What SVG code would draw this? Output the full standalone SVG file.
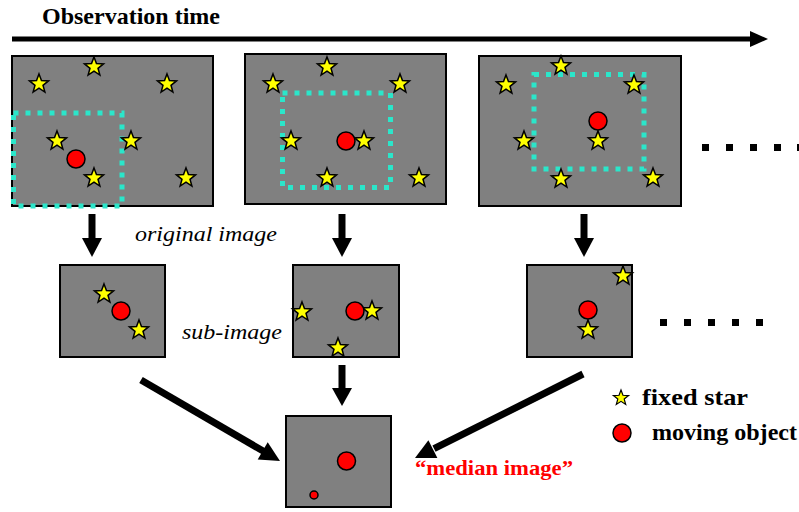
<svg xmlns="http://www.w3.org/2000/svg" xmlns:xlink="http://www.w3.org/1999/xlink" width="799" height="512" viewBox="0 0 799 512">
<style>
.frame{fill:#808080;stroke:#000;stroke-width:2}
.sel{fill:none;stroke:#2BE6CA;stroke-width:5;stroke-dasharray:5 7}
.obj{fill:#FF0000;stroke:#000;stroke-width:1.5}
.shaft{stroke:#000;stroke-width:7;fill:none}
.head{fill:#000}
.dot{fill:#000}
text{font-family:'Liberation Serif','DejaVu Serif',serif;fill:#000}
.b{font-weight:bold}
.i{font-style:italic}
</style>
<defs>
<polygon id="star" points="0,-10 2.47,-3.4 9.51,-3.09 4,1.3 5.88,8.09 0,4.2 -5.88,8.09 -4,1.3 -9.51,-3.09 -2.47,-3.4" fill="#FFFF00" stroke="#000" stroke-width="1.5" stroke-linejoin="miter"/>
</defs>

<g id="timeline">
<text class="b" x="42" y="24" font-family="Liberation Serif, DejaVu Serif, serif" font-size="23" textLength="178" lengthAdjust="spacingAndGlyphs">Observation time</text>
<line x1="12" y1="39" x2="752" y2="39" stroke="#000" stroke-width="5"/>
<polygon points="750,31 768,39 750,47" fill="#000"/>
</g>

<g id="frame1">
<rect class="frame" x="12" y="56" width="201" height="150"/>
<rect class="sel" x="13.5" y="113" width="108.5" height="93"/>
<use xlink:href="#star" x="94" y="67"/>
<use xlink:href="#star" x="39" y="84"/>
<use xlink:href="#star" x="167" y="84"/>
<use xlink:href="#star" x="57" y="141"/>
<use xlink:href="#star" x="131" y="141"/>
<use xlink:href="#star" x="94" y="178"/>
<use xlink:href="#star" x="186" y="178"/>
<circle class="obj" cx="76" cy="159" r="9"/>
</g>

<g id="frame2">
<rect class="frame" x="245" y="54" width="201" height="150"/>
<rect class="sel" x="282.5" y="93" width="108" height="94.5"/>
<use xlink:href="#star" x="327" y="67"/>
<use xlink:href="#star" x="273" y="84"/>
<use xlink:href="#star" x="400" y="84"/>
<use xlink:href="#star" x="291" y="141"/>
<use xlink:href="#star" x="364" y="141"/>
<use xlink:href="#star" x="327" y="178"/>
<use xlink:href="#star" x="419" y="178"/>
<circle class="obj" cx="346" cy="141" r="9"/>
</g>

<g id="frame3">
<rect class="frame" x="479" y="56" width="202" height="150"/>
<rect class="sel" x="534" y="74.5" width="110" height="94.5"/>
<use xlink:href="#star" x="561" y="66"/>
<use xlink:href="#star" x="506" y="85"/>
<use xlink:href="#star" x="634" y="85"/>
<use xlink:href="#star" x="524" y="141"/>
<use xlink:href="#star" x="598" y="141"/>
<use xlink:href="#star" x="561" y="179"/>
<use xlink:href="#star" x="653" y="178"/>
<circle class="obj" cx="598" cy="121" r="9"/>
</g>

<g id="dots-top">
<rect class="dot" x="702" y="144" width="7" height="7"/>
<rect class="dot" x="726" y="144" width="7" height="7"/>
<rect class="dot" x="750" y="144" width="7" height="7"/>
<rect class="dot" x="774" y="144" width="7" height="7"/>
<rect class="dot" x="797" y="144" width="7" height="7"/>
</g>

<g id="label-original">
<text class="i" x="135" y="241" font-family="Liberation Serif, DejaVu Serif, serif" font-size="22" textLength="142" lengthAdjust="spacingAndGlyphs">original image</text>
</g>
<g id="label-sub">
<text class="i" x="182" y="339" font-family="Liberation Serif, DejaVu Serif, serif" font-size="22" textLength="100" lengthAdjust="spacingAndGlyphs">sub-image</text>
</g>

<g id="sub1">
<rect class="frame" x="60" y="265" width="105" height="92"/>
<use xlink:href="#star" x="104" y="294"/>
<use xlink:href="#star" x="139" y="330"/>
<circle class="obj" cx="121" cy="311" r="9"/>
</g>

<g id="sub2">
<rect class="frame" x="293" y="265" width="106" height="92"/>
<use xlink:href="#star" x="302" y="312"/>
<use xlink:href="#star" x="372" y="311"/>
<use xlink:href="#star" x="338" y="348"/>
<circle class="obj" cx="355" cy="311" r="9"/>
</g>

<g id="sub3">
<rect class="frame" x="527" y="265" width="105" height="92"/>
<use xlink:href="#star" x="623" y="276"/>
<use xlink:href="#star" x="588" y="330"/>
<circle class="obj" cx="588" cy="310" r="9"/>
</g>

<g id="dots-mid">
<rect class="dot" x="660" y="319" width="7" height="7"/>
<rect class="dot" x="684" y="319" width="7" height="7"/>
<rect class="dot" x="708" y="319" width="7" height="7"/>
<rect class="dot" x="732" y="319" width="7" height="7"/>
<rect class="dot" x="756" y="319" width="7" height="7"/>
</g>

<g id="median">
<rect class="frame" x="286" y="416" width="105" height="91"/>
<circle class="obj" cx="346.5" cy="461" r="9"/>
<circle class="obj" cx="314" cy="495" r="4"/>
</g>

<g id="label-median">
<text class="b" x="415" y="475" font-family="Liberation Serif, DejaVu Serif, serif" font-size="22" style="fill:#FF0000" textLength="158" lengthAdjust="spacingAndGlyphs">“median image”</text>
</g>

<g id="legend">
<use xlink:href="#star" transform="translate(621,398) scale(0.8)"/>
<text class="b" x="642" y="405" font-family="Liberation Serif, DejaVu Serif, serif" font-size="23" textLength="106" lengthAdjust="spacingAndGlyphs">fixed star</text>
<circle class="obj" cx="622" cy="433" r="9"/>
<text class="b" x="652" y="440" font-family="Liberation Serif, DejaVu Serif, serif" font-size="23" textLength="145" lengthAdjust="spacingAndGlyphs">moving object</text>
</g>

<g id="connectors">
<line class="shaft" x1="92" y1="214" x2="92" y2="239"/>
<polygon class="head" points="82,238 102,238 92,257"/>
<line class="shaft" x1="342" y1="214" x2="342" y2="239"/>
<polygon class="head" points="332,238 352,238 342,257"/>
<line class="shaft" x1="584" y1="214" x2="584" y2="239"/>
<polygon class="head" points="574,238 594,238 584,257"/>
<line class="shaft" x1="342" y1="365" x2="342" y2="389"/>
<polygon class="head" points="332,388 352,388 342,406"/>
<line class="shaft" x1="141" y1="380" x2="264" y2="451.5"/>
<polygon class="head" points="257.7,459.5 267.7,442.3 280,461"/>
<line class="shaft" x1="583" y1="374" x2="434" y2="448.7"/>
<polygon class="head" points="437.4,458 428.4,440.2 415,458"/>
</g>
</svg>
